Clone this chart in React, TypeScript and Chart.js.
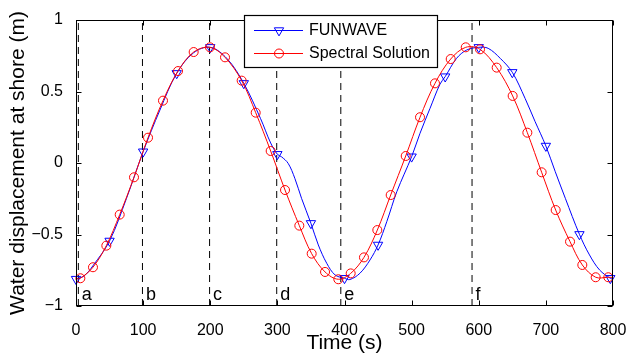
import React, { useEffect, useRef } from 'react';
import { Chart, registerables } from 'chart.js';

Chart.register(...registerables);

const FONT = "'Liberation Sans', Arial, Helvetica, sans-serif";

const xTickValues = [0, 100, 200, 300, 400, 500, 600, 700, 800];
const yTickValues = [-1, -0.5, 0, 0.5, 1];

const eventTimes = [3.5, 99, 199, 299, 394.5, 590];
const eventLabels = ['a', 'b', 'c', 'd', 'e', 'f'];

const funwaveMarkerT = [0, 50, 100, 150, 200, 250, 300, 350, 400, 450, 500, 550, 600, 650, 700, 750, 796];
const funwaveMarkerV = [-0.812, -0.545, 0.079, 0.627, 0.809, 0.557, 0.061, -0.422, -0.806, -0.573, 0.044, 0.604, 0.809, 0.634, 0.119, -0.499, -0.806];

const funwaveLineT = [0, 12, 25, 50, 75, 100, 125, 150, 175, 200, 225, 250, 275, 290, 300, 306, 316, 326, 336, 350, 361, 373.5, 386, 400, 408, 423, 438, 450, 463, 478, 500, 512.5, 527.4, 542.3, 550, 567, 582, 600, 614, 632, 650, 669, 684, 700, 714, 729, 750, 765, 780, 796, 800];
const funwaveLineV = [-0.812, -0.79, -0.72, -0.545, -0.25, 0.079, 0.37, 0.627, 0.77, 0.809, 0.73, 0.557, 0.31, 0.14, 0.061, 0.044, -0.002, -0.107, -0.247, -0.422, -0.573, -0.701, -0.783, -0.806, -0.815, -0.771, -0.678, -0.573, -0.41, -0.2, 0.044, 0.208, 0.382, 0.552, 0.604, 0.732, 0.79, 0.809, 0.802, 0.732, 0.634, 0.452, 0.289, 0.119, -0.061, -0.247, -0.499, -0.643, -0.748, -0.806, -0.81];

const spectralMarkerT = [6.5, 25.3, 45.2, 65.1, 86.4, 107.3, 129.6, 152, 175.3, 199.6, 222, 246.8, 267.7, 290, 311.4, 332.7, 351.1, 371, 390.8, 409.2, 429, 448.9, 468.8, 491.2, 512.5, 534.8, 558.2, 580.6, 601.9, 626.7, 650.5, 672.4, 693.7, 714.6, 736, 754.3, 774.2, 793];
const spectralMarkerV = [-0.806, -0.729, -0.578, -0.361, -0.1, 0.177, 0.436, 0.643, 0.776, 0.809, 0.739, 0.576, 0.352, 0.084, -0.189, -0.438, -0.634, -0.762, -0.813, -0.772, -0.66, -0.469, -0.224, 0.049, 0.32, 0.557, 0.727, 0.809, 0.795, 0.667, 0.469, 0.212, -0.065, -0.329, -0.55, -0.713, -0.799, -0.799];

const spectralLineT = [0, ...spectralMarkerT, 800];
const spectralLineV = [-0.81, ...spectralMarkerV, -0.8];

const BLUE = '#0000ff';
const RED = '#ff0000';

const toXY = (T: number[], V: number[]) => T.map((t, i) => ({ x: t, y: V[i] }));

function drawTriangle(ctx: CanvasRenderingContext2D, x: number, y: number, r: number) {
  const s = Math.sin(Math.PI / 3) * r;
  ctx.beginPath();
  ctx.moveTo(x, y + r);
  ctx.lineTo(x - s, y - r / 2);
  ctx.lineTo(x + s, y - r / 2);
  ctx.closePath();
  ctx.stroke();
}

const decorPlugin = {
  id: 'decor',
  afterDatasetsDraw(chart: any) {
    const { ctx, chartArea: a, scales } = chart;
    const x = scales.x;
    const y = scales.y;
    ctx.save();
    // event labels
    ctx.fillStyle = '#000';
    ctx.font = `18px ${FONT}`;
    ctx.textAlign = 'left';
    ctx.textBaseline = 'alphabetic';
    eventTimes.forEach((t, i) => {
      ctx.fillText(eventLabels[i], x.getPixelForValue(t) + 3.5, a.bottom - 6);
    });
    // frame
    ctx.strokeStyle = '#000';
    ctx.lineWidth = 1;
    const L = Math.round(a.left) + 0.5;
    const R = Math.round(a.right) - 0.5;
    const T = Math.round(a.top) + 0.5;
    const B = Math.round(a.bottom) - 0.5;
    ctx.strokeRect(L, T, R - L, B - T);
    ctx.beginPath();
    xTickValues.forEach((v) => {
      const px = Math.round(x.getPixelForValue(v)) + 0.5;
      ctx.moveTo(px, B);
      ctx.lineTo(px, B - 5);
      ctx.moveTo(px, T);
      ctx.lineTo(px, T + 5);
    });
    yTickValues.forEach((v) => {
      const py = Math.round(y.getPixelForValue(v)) + 0.5;
      ctx.moveTo(L, py);
      ctx.lineTo(L + 5, py);
      ctx.moveTo(R, py);
      ctx.lineTo(R - 5, py);
    });
    ctx.stroke();
    ctx.restore();
  },
  afterDraw(chart: any) {
    const { ctx } = chart;
    ctx.save();
    const bx = 244.5, by = 15.5, bw = 193, bh = 52;
    ctx.fillStyle = '#fff';
    ctx.fillRect(bx, by, bw, bh);
    ctx.strokeStyle = '#000';
    ctx.lineWidth = 1.2;
    ctx.strokeRect(bx, by, bw, bh);
    const rows = [
      { label: 'FUNWAVE', color: BLUE, y: 30.5, marker: 'tri' },
      { label: 'Spectral Solution', color: RED, y: 53.5, marker: 'circ' },
    ];
    rows.forEach((r) => {
      ctx.strokeStyle = r.color;
      ctx.lineWidth = 1;
      ctx.beginPath();
      ctx.moveTo(254, r.y);
      ctx.lineTo(303, r.y);
      ctx.stroke();
      if (r.marker === 'tri') {
        drawTriangle(ctx, 279, r.y, 5.4);
      } else {
        ctx.beginPath();
        ctx.arc(279, r.y, 4.5, 0, Math.PI * 2);
        ctx.stroke();
      }
      ctx.fillStyle = '#000';
      ctx.font = `16px ${FONT}`;
      ctx.textAlign = 'left';
      ctx.textBaseline = 'middle';
      ctx.fillText(r.label, 309, r.y);
    });
    ctx.restore();
  },
};

const fmt = (v: number) => {
  if (v === 0) return '0';
  if (v < 0) return '\u2212' + String(Math.abs(v));
  return String(v);
};

export default function App() {
  const ref = useRef<HTMLCanvasElement | null>(null);

  useEffect(() => {
    if (!ref.current) return;
    const eventSets = eventTimes.map((t) => ({
      type: 'line' as const,
      data: [{ x: t, y: -1 }, { x: t, y: 1 }],
      borderColor: '#000',
      borderWidth: 1,
      borderDash: [7, 5],
      pointRadius: 0,
      fill: false,
      order: 5,
    }));
    const chart = new Chart(ref.current, {
      type: 'line',
      data: {
        datasets: [
          ...eventSets,
          {
            label: 'FUNWAVE line',
            data: toXY(funwaveLineT, funwaveLineV),
            borderColor: BLUE,
            borderWidth: 1,
            pointRadius: 0,
            tension: 0.35,
            fill: false,
            order: 4,
          },
          {
            label: 'FUNWAVE',
            data: toXY(funwaveMarkerT, funwaveMarkerV),
            showLine: false,
            pointStyle: 'triangle',
            pointRotation: 180,
            pointRadius: 5.4,
            pointBorderColor: BLUE,
            pointBackgroundColor: 'rgba(0,0,0,0)',
            pointBorderWidth: 1,
            clip: false as any,
            order: 3,
          },
          {
            label: 'Spectral line',
            data: toXY(spectralLineT, spectralLineV),
            borderColor: RED,
            borderWidth: 1,
            pointRadius: 0,
            tension: 0.35,
            fill: false,
            order: 2,
          },
          {
            label: 'Spectral Solution',
            data: toXY(spectralMarkerT, spectralMarkerV),
            showLine: false,
            pointStyle: 'circle',
            pointRadius: 4.5,
            pointBorderColor: RED,
            pointBackgroundColor: 'rgba(0,0,0,0)',
            pointBorderWidth: 1,
            clip: false as any,
            order: 1,
          },
        ] as any,
      },
      options: {
        animation: false,
        responsive: false,
        events: [],
        layout: { padding: { top: 20, right: 14, bottom: 0, left: 0 } },
        plugins: { legend: { display: false }, tooltip: { enabled: false } },
        scales: {
          x: {
            type: 'linear',
            min: 0,
            max: 800,
            grid: { display: false },
            border: { display: false },
            afterBuildTicks: (s: any) => {
              s.ticks = xTickValues.map((v) => ({ value: v }));
            },
            afterFit: (s: any) => {
              s.height = 52;
              s.paddingLeft = 0;
              s.paddingRight = 0;
            },
            ticks: {
              font: { family: FONT, size: 16 },
              color: '#000',
              padding: 7,
              maxRotation: 0,
              autoSkip: false,
              callback: (v: any) => fmt(Number(v)),
            },
            title: {
              display: true,
              text: 'Time (s)',
              font: { family: FONT, size: 21 },
              color: '#000',
              padding: { top: 0, bottom: 2 },
            },
          },
          y: {
            type: 'linear',
            min: -1,
            max: 1,
            grid: { display: false },
            border: { display: false },
            afterBuildTicks: (s: any) => {
              s.ticks = yTickValues.map((v) => ({ value: v }));
            },
            afterFit: (s: any) => {
              s.width = 76;
              s.paddingTop = 0;
              s.paddingBottom = 0;
            },
            ticks: {
              font: { family: FONT, size: 16 },
              color: '#000',
              padding: 5,
              autoSkip: false,
              callback: (v: any) => fmt(Number(v)),
            },
            title: {
              display: true,
              text: 'Water displacement at shore (m)',
              font: { family: FONT, size: 21 },
              color: '#000',
              padding: { top: 6, bottom: 0 },
            },
          },
        },
      } as any,
      plugins: [decorPlugin],
    });
    return () => chart.destroy();
  }, []);

  return (
    <div style={{ position: 'fixed', left: 0, top: 0, width: 627, height: 358, background: '#fff' }}>
      <canvas ref={ref} width={627} height={358} style={{ display: 'block' }} />
    </div>
  );
}
